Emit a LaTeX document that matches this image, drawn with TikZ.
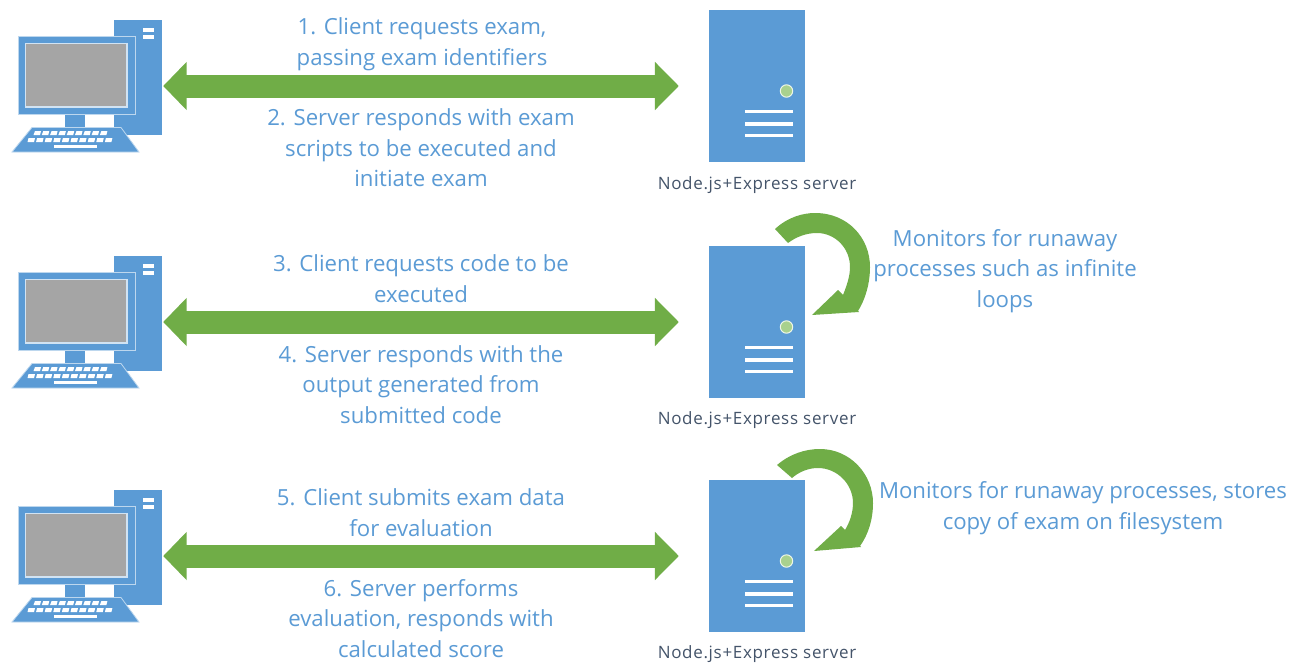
\documentclass[tikz,border=0pt]{standalone}
\usepackage{fontspec}
\setmainfont{Open Sans}
\usetikzlibrary{arrows.meta}
\definecolor{blu}{HTML}{5B9BD5}
\definecolor{grn}{HTML}{70AD47}
\definecolor{lgrn}{HTML}{A9D18E}
\definecolor{lbl}{HTML}{44546A}
\definecolor{scr}{HTML}{A5A5A5}
\definecolor{edge}{HTML}{BDD7EE}
\tikzset{
  x=1pt,y=-1pt,
  steptext/.style={text=blu,font=\fontsize{22.2}{30.5}\selectfont,align=center,inner sep=0pt},
  srvlabel/.style={text=lbl,font=\fontsize{17}{20}\selectfont\addfontfeature{LetterSpace=4},inner sep=0pt},
  serverbox/.style={fill=blu,draw=none,minimum width=96pt,minimum height=152pt,inner sep=0pt},
  pcbox/.style={draw=none,minimum width=150pt,minimum height=132pt,inner sep=0pt},
  bigarrow/.style={draw=grn,line width=23pt,{Triangle[length=23.5pt,width=47pt]}-{Triangle[length=24pt,width=47pt]}},
  swirl/.style={fill=grn,draw=none},
  whitebar/.style={fill=white,draw=none},
}
\newcommand{\pcicon}[2]{% name, y offset
  \begin{scope}[yshift=-#2pt]
    \node[pcbox] (#1) at (87,86) {};
    \fill[blu] (114,20) rectangle (162,135);
    \fill[whitebar] (143,28) rectangle (154,32);
    \fill[whitebar] (143,35) rectangle (154,39);
    \fill[blu] (65,112) rectangle (85,128);
    \filldraw[fill=blu,draw=edge,line width=1pt] (18,36) rectangle (135,114);
    \filldraw[fill=scr,draw=edge!70!white,line width=1.5pt] (25.5,43.5) rectangle (127,107);
    \filldraw[fill=blu,draw=edge,line width=.8pt] (12,152) -- (139,152) -- (121,127.5) -- (32,127.5) -- cycle;
    \foreach \i in {0,...,8} \fill[whitebar] (35+\i*8.3,131) -- (41+\i*8.3,131) -- (40+\i*8.3,135) -- (33.5+\i*8.3,135) -- cycle;
    \foreach \i in {0,...,9} \fill[whitebar] (28.5+\i*8.6,138) -- (35+\i*8.6,138) -- (34+\i*8.6,142) -- (27.5+\i*8.6,142) -- cycle;
    \fill[whitebar] (54,144.5) rectangle (97,148);
  \end{scope}
}
\newcommand{\srvicon}[3]{% name, center y, top offset
  \node[serverbox] (#1) at (757,#2) {};
  \begin{scope}[yshift=-#3pt]
    \filldraw[fill=lgrn,draw=white!80!lgrn,line width=1pt] (786.5,91) circle (6.2pt);
    \fill[whitebar] (745,110) rectangle (793,113);
    \fill[whitebar] (745,122) rectangle (793,125.5);
    \fill[whitebar] (745,134) rectangle (793,137);
  \end{scope}
}
\begin{document}
\begin{tikzpicture}
\useasboundingbox (0,0) rectangle (1304,664);
\fill[white] (0,0) rectangle (1304,664);

\pcicon{pcA}{0}
\pcicon{pcB}{236}
\pcicon{pcC}{470}
\srvicon{srvA}{86}{0}
\srvicon{srvB}{322}{236}
\srvicon{srvC}{556}{470}

\foreach \p/\s in {pcA/srvA,pcB/srvB,pcC/srvC}
  \draw[bigarrow] ([xshift=1pt]\p.east) -- ([xshift=-30pt]\s.west);

\fill[swirl] (775,229) .. controls (788,217) and (803,213) .. (815,213)
  .. controls (848,213) and (870,238) .. (870,267)
  .. controls (870,284) and (865,300) .. (858,311)
  -- (859,312) -- (812,315) -- (838,290) -- (843,295)
  .. controls (847,285) and (850,276) .. (850,267)
  .. controls (850,248) and (835,233) .. (817,233)
  .. controls (806,233) and (796,237) .. (788,243) -- cycle;
\fill[swirl] (777,465) .. controls (790,454) and (805,449) .. (820,449)
  .. controls (850,449) and (873,474) .. (873,503)
  .. controls (873,520) and (868,535) .. (860,546)
  -- (861,547) -- (814,551) -- (841,526) -- (845,530)
  .. controls (850,522) and (853,512) .. (853,503)
  .. controls (853,484) and (837,468) .. (818,468)
  .. controls (808,468) and (799,472) .. (792,478) -- cycle;

\node[steptext] (t1) at (422,44) {1. Client requests exam,\\passing exam identifiers};
\node[steptext] (t2) at (421,148) {2. Server responds with exam\\scripts to be executed and\\initiate exam};
\node[steptext] (t3) at (421,278.5) {3. Client requests code to be\\executed};
\node[steptext] (t4) at (421,384.5) {4. Server responds with the\\output generated from\\submitted code};
\node[steptext] (t5) at (421,512.5) {5. Client submits exam data\\for evaluation};
\node[steptext] (t6) at (421,618.5) {6. Server performs\\evaluation, responds with\\calculated score};
\node[steptext] (m1) at (1005,271) {Monitors for runaway\\processes such as infinite\\loops};
\node[steptext] (m2) at (1083,508) {Monitors for runaway processes, stores\\copy of exam on filesystem};

\node[srvlabel] (l1) at (757,185.5) {Node.js+Express server};
\node[srvlabel] (l2) at (757,420.5) {Node.js+Express server};
\node[srvlabel] (l3) at (757,654.5) {Node.js+Express server};
\end{tikzpicture}
\end{document}
